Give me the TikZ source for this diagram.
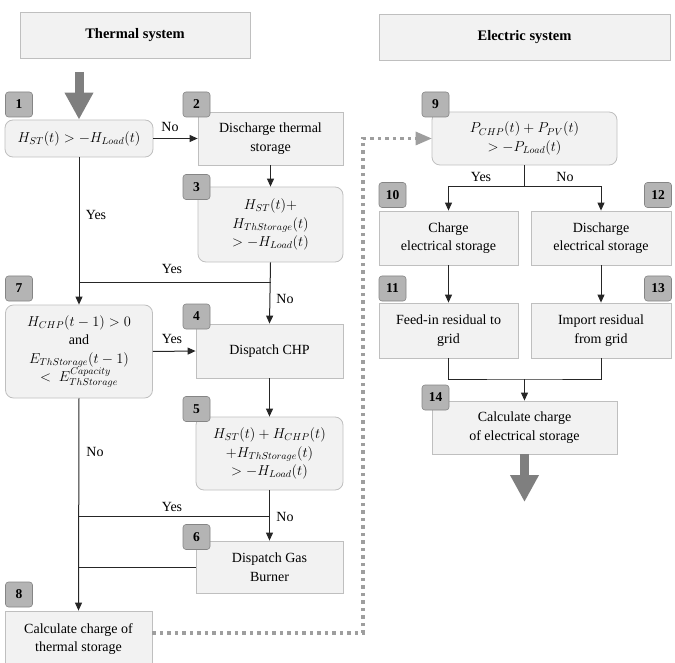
\documentclass[tikz,border=0pt]{standalone}
\usepackage{amsmath}
\usepackage{fontspec}
\setmainfont{Liberation Serif}
\usepackage{tikz}
\usetikzlibrary{arrows.meta}
\definecolor{boxfill}{HTML}{F2F2F2}
\definecolor{boxline}{HTML}{BFBFBF}
\definecolor{tagfill}{HTML}{B4B4B4}
\definecolor{tagline}{HTML}{858585}
\definecolor{bigarrow}{HTML}{7F7F7F}
\definecolor{dotgray}{HTML}{9E9E9E}

\begin{document}
\begin{tikzpicture}[x=1pt,y=-1pt]
	\tikzstyle{every node}+=[inner sep=0pt, font=\rmfamily\fontsize{14}{18.5}\selectfont]
	\tikzstyle{hdbox}=[draw=boxline, fill=boxfill, line width=0.8pt, minimum height=46pt, font=\rmfamily\fontsize{14.5}{16}\selectfont\bfseries]
	\tikzstyle{procbox}=[draw=boxline, fill=boxfill, line width=0.8pt, align=center]
	\tikzstyle{decbox}=[procbox, rounded corners=8pt]
	\tikzstyle{numtag}=[draw=tagline, fill=tagfill, line width=0.6pt, rounded corners=3pt, minimum width=27pt, minimum height=25pt, font=\rmfamily\fontsize{13.5}{16}\selectfont\bfseries]
	\tikzstyle{conn}=[draw=black!85, line width=1pt]
	\tikzstyle{arr}=[conn, -{Triangle[length=8pt,width=7pt]}]
	\tikzstyle{fatarrow}=[draw=bigarrow, line width=9pt, -{Triangle[length=27pt,width=27pt]}]
	\tikzstyle{dotline}=[draw=dotgray, line width=3.5pt, dash pattern=on 3.5pt off 4pt]
	\useasboundingbox (0,0) rectangle (675,663);
	\node [hdbox, minimum width=230pt] (thermal) at (135,35) {Thermal system};
	\node [hdbox, minimum width=291pt] (electric) at (524.5,37) {Electric system};
	\node [decbox, minimum width=148pt, minimum height=37pt] (b1) at (79,138.5) {$H_{ST}(t) > -H_{Load}(t)$};
	\node [procbox, minimum width=145pt, minimum height=53pt] (b2) at (270.5,138.5) {Discharge thermal\\storage};
	\node [decbox, minimum width=145pt, minimum height=75pt] (b3) at (270.5,224.5) {$H_{ST}(t) +$\\$H_{ThStorage}(t)$\\$> -H_{Load}(t)$};
	\node [procbox, minimum width=147pt, minimum height=54pt] (b4) at (269.5,351) {Dispatch CHP};
	\node [decbox, minimum width=147pt, minimum height=73pt] (b5) at (269.5,453.5) {$H_{ST}(t) + H_{CHP}(t)$\\$+H_{ThStorage}(t)$\\$> -H_{Load}(t)$};
	\node [procbox, minimum width=147pt, minimum height=52pt] (b6) at (269.5,567) {Dispatch Gas\\Burner};
	\node [decbox, minimum width=147pt, minimum height=93pt] (b7) at (79,351.5) {$H_{CHP}(t-1) > 0$\\and\\$E_{ThStorage}(t-1)$\\$<\;E^{Capacity}_{ThStorage}$};
	\node [procbox, minimum width=147pt, minimum height=56pt] (b8) at (78.5,639) {Calculate charge of\\thermal storage};
	\node [decbox, minimum width=185pt, minimum height=53pt] (b9) at (524.5,138.5) {$P_{CHP}(t) + P_{PV}(t)$\\$> -P_{Load}(t)$};
	\node [procbox, minimum width=139pt, minimum height=54pt] (b10) at (448.5,238) {Charge\\electrical storage};
	\node [procbox, minimum width=140pt, minimum height=54pt] (b12) at (601,238) {Discharge\\electrical storage};
	\node [procbox, minimum width=139pt, minimum height=55pt] (b11) at (448.5,330.5) {Feed-in residual to\\grid};
	\node [procbox, minimum width=140pt, minimum height=55pt] (b13) at (601,330.5) {Import residual\\from grid};
	\node [procbox, minimum width=185pt, minimum height=53pt] (b14) at (524.5,427.5) {Calculate charge\\of electrical storage};
	\coordinate (tin) at (79,72);
	\coordinate (tout) at (524.5,502);
	\coordinate (j1) at (79,283);
	\coordinate (j2) at (79,516);
	\coordinate (j3) at (524.5,187);
	\coordinate (j4) at (524.5,379);
	\coordinate (dA) at (363,633);
	\coordinate (dB) at (363,138.5);
	\draw [fatarrow] (tin) -- (b1.north);
	\draw [fatarrow] (b14.south) -- (tout);
	\draw [arr] (b1.east) -- (b2.west);
	\draw [arr] (b2.south) -- (b3.north);
	\draw [arr] (b1.south) -- (b7.north);
	\draw [conn] (b3.south |- j1) -- (j1);
	\draw [arr] (b3.south) -- (b4.north);
	\draw [arr] (b7.east) -- (b4.west);
	\draw [arr] (b4.south) -- (b5.north);
	\draw [conn] (b5.south |- j2) -- (j2);
	\draw [arr] (b5.south) -- (b6.north);
	\draw [conn] (b6.west) -- (b6.west -| j2);
	\draw [arr] (b7.south) -- (b8.north);
	\draw [dotline] (b8.east |- dA) -- (dA) -- (dB) -- ([xshift=-14pt]b9.west);
	\fill [dotgray] (b9.west) -- ([xshift=-16pt,yshift=-7pt]b9.west) -- ([xshift=-16pt,yshift=7pt]b9.west) -- cycle;
	\draw [conn] (b9.south) -- (j3);
	\draw [arr] (j3) -| (b10.north);
	\draw [arr] (j3) -| (b12.north);
	\draw [arr] (b10.south) -- (b11.north);
	\draw [arr] (b12.south) -- (b13.north);
	\draw [conn] (b11.south) |- (j4) -| (b13.south);
	\draw [arr] (j4) -- (b14.north);
	\node (l1) at (170,127) {No};
	\node (l2) at (96,215) {Yes};
	\node (l3) at (172,269) {Yes};
	\node (l4) at (285,299) {No};
	\node (l5) at (172,339) {Yes};
	\node (l6) at (95,452) {No};
	\node (l7) at (172,507) {Yes};
	\node (l8) at (285,517) {No};
	\node (l9) at (481,177) {Yes};
	\node (l10) at (565,177) {No};
	\node [numtag] (n1) at (19,104.5) {1};
	\node [numtag] (n2) at (196.5,104.5) {2};
	\node [numtag] (n3) at (196.5,187) {3};
	\node [numtag] (n4) at (196.5,316.5) {4};
	\node [numtag] (n5) at (196.5,409) {5};
	\node [numtag] (n6) at (196.5,537) {6};
	\node [numtag] (n7) at (19,288.5) {7};
	\node [numtag] (n8) at (19,594.5) {8};
	\node [numtag] (n9) at (435.5,104.5) {9};
	\node [numtag] (n10) at (392.5,195) {10};
	\node [numtag] (n12) at (658,195) {12};
	\node [numtag] (n11) at (392.5,288.5) {11};
	\node [numtag] (n13) at (658,288.5) {13};
	\node [numtag] (n14) at (435.5,397.5) {14};
\end{tikzpicture}
\end{document}
